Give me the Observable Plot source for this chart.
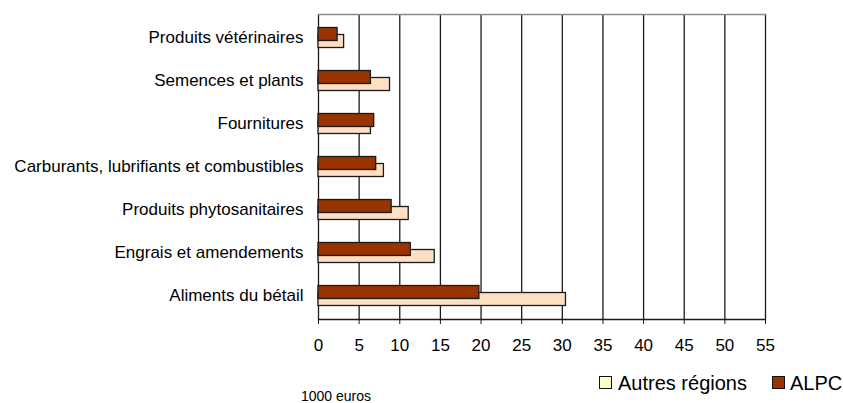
<!DOCTYPE html>
<html><head><meta charset="utf-8">
<script src="https://cdn.jsdelivr.net/npm/d3@7"></script>
<script src="https://cdn.jsdelivr.net/npm/@observablehq/plot@0.6"></script>
<style>
body{margin:0;background:#fff;font-family:"Liberation Sans",Arial,sans-serif;color:#000;}
#wrap{position:relative;width:843px;height:403px;overflow:hidden;}
#chart svg{display:block;}
.sw{position:absolute;width:11px;height:11px;border:1.5px solid #111;}
.lt{position:absolute;font-size:20px;line-height:20px;white-space:nowrap;}
#unit{position:absolute;left:301px;top:389px;font-size:14px;line-height:14px;white-space:nowrap;}
</style></head>
<body>
<div id="wrap">
  <div id="chart"></div>
  <div class="sw" style="left:599px;top:376px;background:#FFFFC8;"></div>
  <div class="lt" id="l1" style="left:618px;top:373px;"></div>
  <div class="sw" style="left:772px;top:376px;background:#993300;"></div>
  <div class="lt" id="l2" style="left:790px;top:373px;"></div>
  <div id="unit"></div>
</div>
<script>
const categories = [
  "Produits vétérinaires",
  "Semences et plants",
  "Fournitures",
  "Carburants, lubrifiants et combustibles",
  "Produits phytosanitaires",
  "Engrais et amendements",
  "Aliments du bétail"
];
const alpc = [2.35, 6.45, 6.85, 7.1, 9.0, 11.35, 19.8];
const autres = [3.15, 8.8, 6.45, 8.05, 11.1, 14.3, 30.45];
const xTicks = [0, 5, 10, 15, 20, 25, 30, 35, 40, 45, 50, 55];
const seriesNames = ["Autres régions", "ALPC"];
const unitLabel = "1000 euros";

const autresRows = categories.map((c, i) => ({category: c, value: autres[i]}));
const alpcRows = categories.map((c, i) => ({category: c, value: alpc[i]}));

const chart = Plot.plot({
  width: 843,
  height: 365,
  marginLeft: 318,
  marginRight: 78,
  marginTop: 14,
  marginBottom: 46,
  style: {fontFamily: "'Liberation Sans', Arial, sans-serif", fontSize: "17px", color: "#000", background: "#fff"},
  x: {domain: [0, 55], label: null},
  y: {domain: categories, paddingInner: 0.7, paddingOuter: 0.35, label: null},
  marks: [
    Plot.ruleX(xTicks, {stroke: "#1a1a1a", strokeWidth: 1.3}),
    Plot.frame({anchor: "top", stroke: "#8a8a8a", strokeWidth: 1.3}),
    Plot.barX(autresRows, {x: "value", y: "category", dy: 3.5, fill: "#FDDFC3", stroke: "#1a1a1a", strokeWidth: 1.3}),
    Plot.barX(alpcRows, {x: "value", y: "category", dy: -3.5, fill: "#993300", stroke: "#1a1a1a", strokeWidth: 1.3}),
    Plot.frame({anchor: "bottom", stroke: "#1a1a1a", strokeWidth: 1.3}),
    Plot.axisX({ticks: xTicks, tickSize: 5, tickPadding: 14, tickFormat: d => String(d), fontSize: 17, stroke: "#1a1a1a"}),
    Plot.axisY({tickSize: 0, tickPadding: 15, fontSize: 17})
  ]
});
document.getElementById("chart").appendChild(chart);
document.getElementById("l1").textContent = seriesNames[0];
document.getElementById("l2").textContent = seriesNames[1];
document.getElementById("unit").textContent = unitLabel;
</script>
</body></html>
